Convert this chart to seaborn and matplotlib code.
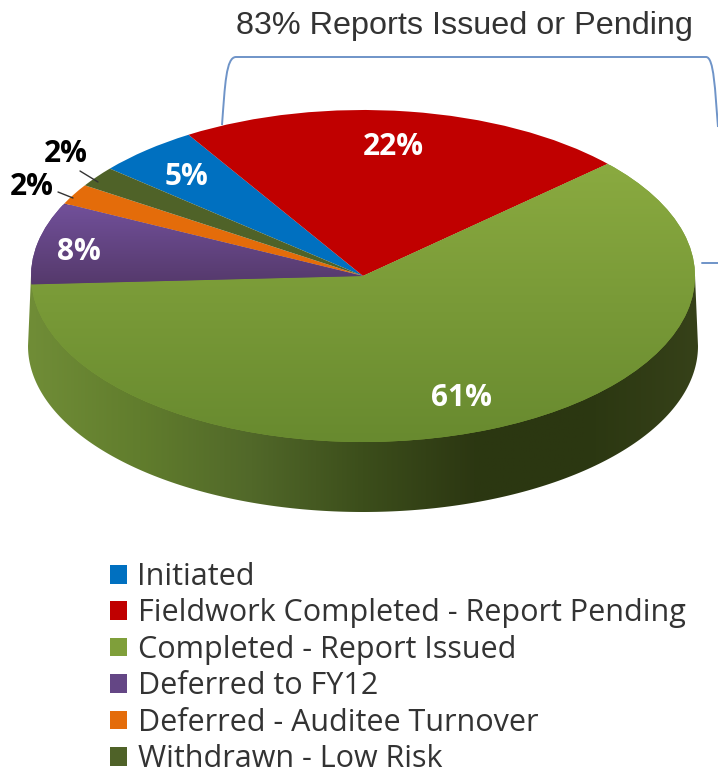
import numpy as np
import seaborn as sns
import matplotlib.pyplot as plt
from matplotlib.patches import Polygon, PathPatch
from matplotlib.path import Path

categories = ["Initiated", "Fieldwork Completed - Report Pending", "Completed - Report Issued",
              "Deferred to FY12", "Deferred - Auditee Turnover", "Withdrawn - Low Risk"]
values = [5, 22, 61, 8, 2, 2]
colors = ["#0070c0", "#c00000", "#7f9f3a", "#644685", "#e46c0a", "#4f6228"]
title = "83% Reports Issued or Pending"

sns.set_theme(style="white")
plt.rcParams["font.family"] = ["Open Sans", "DejaVu Sans"]

fig = plt.figure(figsize=(7.18, 7.75), dpi=100)
ax = fig.add_axes([0, 0, 1, 1])


# y in picture pixels -> data y (pie is a circle in data, squashed 2:1 by the limits)
def dy(py):
    return (276 - py) * 2


wedges, _ = ax.pie(values, colors=colors, startangle=139.7, counterclock=False,
                   center=(363, 0), radius=332, wedgeprops={"linewidth": 0, "zorder": 3})
ax.set_aspect("auto")

# gradient on the green and purple slices
green = sns.blend_palette(["#8aaa40", "#688a2f"], as_cmap=True)
purple = sns.blend_palette(["#71509a", "#55396b"], as_cmap=True)
grad = np.linspace(0, 1, 256).reshape(-1, 1)
im = ax.imshow(grad, cmap=green, extent=[0, 718, dy(442), dy(165)], aspect="auto", origin="upper", zorder=4)
im.set_clip_path(wedges[2])
im = ax.imshow(grad, cmap=purple, extent=[0, 718, dy(285), dy(205)], aspect="auto", origin="upper", zorder=4)
im.set_clip_path(wedges[3])

# side wall of the 3D pie
t = np.linspace(np.pi, 2 * np.pi, 200)
wall_x = 363 + 335 * np.cos(t)
wall_y = dy(346) + 332 * np.sin(t)
wall_pts = np.column_stack([np.r_[wall_x, 695, 31], np.r_[wall_y, dy(276), dy(276)]])
wall = Polygon(wall_pts, closed=True, facecolor="none", edgecolor="none", transform=ax.transData)
ax.add_patch(wall)
side = sns.blend_palette(["#708d37", "#617d2d", "#516829", "#3c4e1b", "#2c3712", "#2b3711", "#364119"], as_cmap=True)
im = ax.imshow(grad.T, cmap=side, extent=[28, 698, dy(515), dy(270)], aspect="auto", zorder=2)
im.set_clip_path(wall)

# percent labels
label_pos = [(186, 177), (393, 147), (461, 398), (79, 252), (32, 187), (66, 154)]
label_col = ["white", "white", "white", "white", "black", "black"]
for v, (x, y), c in zip(values, label_pos, label_col):
    ax.text(x, dy(y), f"{v}%", color=c, fontsize=21.5, fontweight="bold", ha="center", va="center",
            zorder=6, family="Open Sans")

# leader lines of the two 2% labels
ax.plot([58, 73], [dy(192), dy(198)], color="#333333", lw=1, zorder=6)
ax.plot([80, 98], [dy(171), dy(182)], color="#333333", lw=1, zorder=6)

# bracket over the pie
brace = Path([(222, dy(125)), (225, dy(85)), (226, dy(57)), (236, dy(57)),
              (706, dy(57)), (714, dy(57)), (715, dy(90)), (718, dy(127))],
             [Path.MOVETO, Path.CURVE4, Path.CURVE4, Path.CURVE4,
              Path.LINETO, Path.CURVE4, Path.CURVE4, Path.CURVE4])
ax.add_patch(PathPatch(brace, fill=False, edgecolor="#6f94c8", lw=1.4, zorder=1))
ax.plot([702, 718], [dy(263), dy(263)], color="#6f94c8", lw=1.4, zorder=1)

ax.text(464, dy(26), title, fontsize=23.3, color="#333333", ha="center", va="center", family="Liberation Sans")

ax.set_xlim(0, 718)
ax.set_ylim(dy(775), dy(0))
ax.axis("off")

leg = ax.legend(wedges, categories, loc="upper left", bbox_to_anchor=(110 / 718, 1 - 562 / 775),
                frameon=False, fontsize=22, labelspacing=0.21, handlelength=0.56, handleheight=0.56,
                handletextpad=0.34, borderpad=0, borderaxespad=0, labelcolor="#333333")

fig.savefig("out.png", dpi=100)
